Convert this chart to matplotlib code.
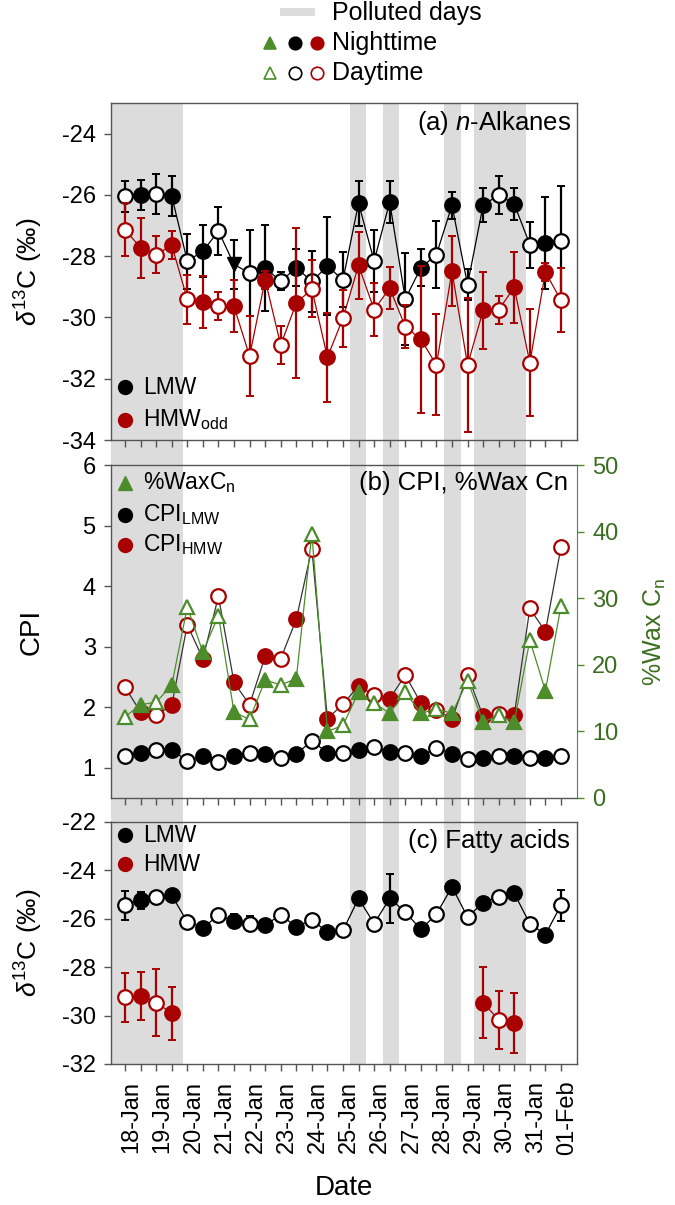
import numpy as np
import matplotlib.pyplot as plt
from matplotlib.lines import Line2D
from matplotlib.patches import Rectangle
from matplotlib.transforms import blended_transform_factory

plt.rcParams['font.family'] = ['Liberation Sans', 'DejaVu Sans']
plt.rcParams['mathtext.fontset'] = 'custom'
plt.rcParams['mathtext.rm'] = 'Liberation Sans'
plt.rcParams['mathtext.it'] = 'Liberation Sans:italic'
plt.rcParams['axes.unicode_minus'] = False

# samples: alternating daytime (even index) / nighttime (odd index)
dates = ['18-Jan', '19-Jan', '20-Jan', '21-Jan', '22-Jan', '23-Jan', '24-Jan', '25-Jan',
         '26-Jan', '27-Jan', '28-Jan', '29-Jan', '30-Jan', '31-Jan', '01-Feb']
polluted = [(-0.9, 3.75), (14.45, 15.5), (16.55, 17.57), (20.5, 21.58), (22.42, 25.75)]

# (a) n-alkanes d13C
alk_lmw = [-26.05, -26.0, -25.98, -26.03, -28.16, -27.84, -27.18, -28.27, -28.55, -28.38,
           -28.82, -28.38, -28.82, -28.33, -28.77, -26.27, -28.16, -26.23, -29.4, -28.38,
           -27.95, -26.34, -28.93, -26.34, -26.0, -26.3, -27.62, -27.56, -27.5]
alk_lmw_err = [0.5, 0.5, 0.65, 0.65, 0.9, 0.85, 0.78, 0.8, 1.4, 1.4,
               0.3, 0.6, 1.0, 1.6, 0.9, 0.73, 1.0, 0.68, 1.5, 0.6,
               1.1, 0.45, 0.5, 0.55, 0.63, 0.52, 0.75, 1.5, 1.8]
alk_hmw = [-27.13, -27.73, -27.95, -27.64, -29.4, -29.51, -29.62, -29.64, -31.26, -28.77,
           -30.9, -29.53, -29.07, -31.3, -30.02, -28.3, -29.75, -29.04, -30.3, -30.71,
           -31.55, -28.49, -31.55, -29.77, -29.75, -29.02, -31.48, -28.52, -29.44]
alk_hmw_err = [0.87, 0.97, 0.6, 0.45, 0.8, 0.85, 0.45, 0.85, 1.3, 0.3,
               0.63, 2.46, 0.93, 1.46, 0.93, 1.1, 0.87, 0.7, 0.7, 2.4,
               1.65, 1.15, 2.2, 1.25, 0.45, 1.15, 1.75, 0.3, 1.05]

# (b) CPI and %WaxCn
cpi_lmw = [1.19, 1.25, 1.30, 1.30, 1.11, 1.19, 1.10, 1.19, 1.24, 1.22,
           1.16, 1.23, 1.44, 1.25, 1.25, 1.29, 1.34, 1.26, 1.24, 1.19,
           1.33, 1.23, 1.14, 1.16, 1.20, 1.20, 1.16, 1.16, 1.19]
cpi_hmw = [2.33, 1.92, 1.87, 2.03, 3.36, 2.80, 3.83, 2.41, 2.04, 2.84,
           2.80, 3.45, 4.62, 1.81, 2.05, 2.35, 2.20, 2.14, 2.53, 2.07,
           1.96, 1.80, 2.53, 1.85, 1.88, 1.87, 3.63, 3.25, 4.64]
wax = [12.2, 14.0, 14.4, 16.9, 28.7, 21.9, 27.4, 12.9, 11.8, 17.7,
       17.0, 17.9, 39.7, 10.0, 10.9, 15.9, 14.3, 12.7, 15.9, 12.7,
       13.4, 12.7, 17.6, 11.4, 12.4, 11.4, 23.7, 16.1, 28.8]

# (c) fatty acids d13C
nan = np.nan
fa_lmw = [-25.44, -25.23, -25.1, -25.03, -26.13, -26.37, -25.86, -26.1, -26.2, -26.27,
          -25.83, -26.34, -26.04, -26.55, -26.48, -25.16, -26.2, -25.16, -25.72, -26.44,
          -25.81, -24.68, -25.93, -25.33, -25.09, -24.95, -26.2, -26.65, -25.44]
fa_lmw_err = [0.6, 0.35, 0, 0, 0, 0, 0, 0.3, 0.3, 0,
              0, 0, 0, 0, 0, 0, 0, 1.0, 0, 0,
              0, 0, 0, 0, 0, 0, 0, 0, 0.65]
fa_hmw = [-29.25, -29.18, -29.46, -29.9, nan, nan, nan, nan, nan, nan,
          nan, nan, nan, nan, nan, nan, nan, nan, nan, nan,
          nan, nan, nan, -29.46, -30.18, -30.3, nan, nan, nan]
fa_hmw_err = [1.0, 1.0, 1.4, 1.1, 0, 0, 0, 0, 0, 0,
              0, 0, 0, 0, 0, 0, 0, 0, 0, 0,
              0, 0, 0, 1.45, 1.2, 1.25, 0, 0, 0]

RED = '#a80000'
GREEN = '#4c8c2b'
DKGREEN = '#3a6e1f'
SHADE = '#dcdcdc'
FRAME = '#555555'


def series(ax, y, err, color, lc=None, marker='o', z=3, special=None):
    x = np.arange(len(y))
    y = np.asarray(y, float)
    if err is not None:
        ax.errorbar(x, y, yerr=err, fmt='none', ecolor=color, elinewidth=1.6,
                    capsize=3, capthick=1.4, zorder=z)
    ax.plot(x, y, '-', color=lc or color, lw=0.9, zorder=z)
    day = x % 2 == 0
    night = ~day
    if special is not None:
        night[special] = False
        ax.plot(x[special], y[special], ls='none', marker='v', ms=10.5, mfc=color,
                mec=color, zorder=z + 1)
    ax.plot(x[day], y[day], ls='none', marker=marker, ms=10.5, mfc='white',
            mec=color, mew=1.6, zorder=z + 1)
    ax.plot(x[night], y[night], ls='none', marker=marker, ms=10.5, mfc=color,
            mec=color, mew=1.6, zorder=z + 1)


def inlegend(ax, y, marker, color, label):
    ax.plot([0.03], [y], marker=marker, ms=10, color=color, ls='none',
            transform=ax.transAxes, clip_on=False, zorder=6)
    ax.text(0.068, y, label, transform=ax.transAxes, va='center', ha='left',
            fontsize=16.5, zorder=6)


fig = plt.figure(figsize=(6.75, 12.05), dpi=100)
W, H = 675, 1205
L, R = 111 / W, 577 / W
ax_a = fig.add_axes([L, 1 - 440 / H, R - L, 337 / H])
ax_b = fig.add_axes([L, 1 - 798 / H, R - L, 333 / H], sharex=ax_a)
ax_c = fig.add_axes([L, 1 - 1064 / H, R - L, 242 / H], sharex=ax_a)
n = len(alk_lmw)

for ax in (ax_a, ax_b, ax_c):
    ax.set_facecolor('none')
    for s in ax.spines.values():
        s.set_color(FRAME)
        s.set_linewidth(1.0)
    ax.tick_params(axis='y', direction='out', length=5, width=1, color=FRAME,
                   labelsize=17, pad=6)
    ax.set_xticks(np.arange(n), minor=True)
    ax.set_xticks(np.arange(len(dates)) * 2 + 0.4)
    ax.tick_params(axis='x', which='minor', direction='out', length=5, width=1,
                   color=FRAME)
    ax.tick_params(axis='x', which='major', length=0, labelsize=17, pad=12)
ax_a.set_xlim(-0.9, n + 0.03)
ax_a.tick_params(axis='x', labelbottom=False)
ax_b.tick_params(axis='x', labelbottom=False)
ax_c.set_xticklabels(dates, rotation=90)

# polluted days shading across all panels
tr = blended_transform_factory(ax_a.transData, fig.transFigure)
y0, y1 = 1 - 1064 / H, 1 - 103 / H
for a, b in polluted:
    fig.add_artist(Rectangle((a, y0), b - a, y1 - y0, transform=tr,
                             facecolor=SHADE, edgecolor='none', zorder=-1))

# (a)
series(ax_a, alk_lmw, alk_lmw_err, 'black', special=7)
series(ax_a, alk_hmw, alk_hmw_err, RED, z=4)
ax_a.set_ylim(-34, -23)
ax_a.set_yticks(np.arange(-34, -23, 2))
ax_a.set_ylabel(r'$\it{\delta}^{13}$C (‰)', fontsize=19)
ax_a.yaxis.set_label_coords(-0.142, 0.5)
ax_a.text(0.988, 0.94, r'(a) $\it{n}$-Alkanes', transform=ax_a.transAxes,
          ha='right', va='center', fontsize=18.5)
inlegend(ax_a, 0.157, 'o', 'black', 'LMW')
inlegend(ax_a, 0.06, 'o', RED, r'HMW$_{\mathregular{odd}}$')

# (b)
series(ax_b, cpi_lmw, None, 'black')
series(ax_b, cpi_hmw, None, RED, lc='#333333', z=4)
ax_b.set_ylim(0.5, 6)
ax_b.set_yticks(np.arange(1, 7))
ax_b.set_ylabel('CPI', fontsize=20)
ax_b.yaxis.set_label_coords(-0.142, 0.5)
ax_b.spines['right'].set_visible(False)
ax_b2 = ax_b.twinx()
ax_b2.set_facecolor('none')
series(ax_b2, wax, None, GREEN, marker='^', z=5)
ax_b2.set_ylim(0, 50)
ax_b2.set_yticks(np.arange(0, 51, 10))
ax_b2.spines['right'].set_color(GREEN)
for s in ('left', 'top', 'bottom'):
    ax_b2.spines[s].set_visible(False)
ax_b2.tick_params(axis='y', direction='out', length=5, width=1, color=GREEN,
                  labelcolor=DKGREEN, labelsize=17, pad=6)
ax_b2.set_ylabel(r'%Wax C$_{\mathregular{n}}$', fontsize=18, color=DKGREEN)
ax_b2.yaxis.set_label_coords(1.14, 0.5)
ax_b2.text(0.98, 0.946, '(b) CPI, %Wax Cn', transform=ax_b2.transAxes,
           ha='right', va='center', fontsize=18.5)
inlegend(ax_b2, 0.946, '^', GREEN, r'%WaxC$_{\mathregular{n}}$')
inlegend(ax_b2, 0.85, 'o', 'black', r'CPI$_{\mathregular{LMW}}$')
inlegend(ax_b2, 0.76, 'o', RED, r'CPI$_{\mathregular{HMW}}$')

# (c)
series(ax_c, fa_lmw, fa_lmw_err, 'black')
series(ax_c, fa_hmw, fa_hmw_err, RED, z=4)
ax_c.set_ylim(-32, -22)
ax_c.set_yticks(np.arange(-32, -21, 2))
ax_c.set_ylabel(r'$\it{\delta}^{13}$C (‰)', fontsize=19)
ax_c.yaxis.set_label_coords(-0.142, 0.5)
ax_c.text(0.985, 0.92, '(c) Fatty acids', transform=ax_c.transAxes,
          ha='right', va='center', fontsize=18.5)
inlegend(ax_c, 0.945, 'o', 'black', 'LMW')
inlegend(ax_c, 0.825, 'o', RED, 'HMW')
ax_c.set_xlabel('Date', fontsize=20, labelpad=14)

# top legend
fig.add_artist(Rectangle((280 / W, 1 - 16 / H), 35 / W, 8 / H, transform=fig.transFigure,
                         facecolor=SHADE, edgecolor='none'))
fig.text(332 / W, 1 - 13 / H, 'Polluted days', fontsize=18, va='center', ha='left')
for row, (py, label) in enumerate([(43, 'Nighttime'), (73, 'Daytime')]):
    yy = 1 - py / H
    for px, mk, col in [(270, '^', GREEN), (295, 'o', 'black'), (317, 'o', RED)]:
        fig.add_artist(Line2D([px / W], [yy], marker=mk, ms=9, ls='none',
                              mec=col, mfc=col if row == 0 else 'white', mew=1.2,
                              transform=fig.transFigure))
    fig.text(332 / W, yy, label, fontsize=18, va='center', ha='left')

fig.savefig('out.png', dpi=100)
